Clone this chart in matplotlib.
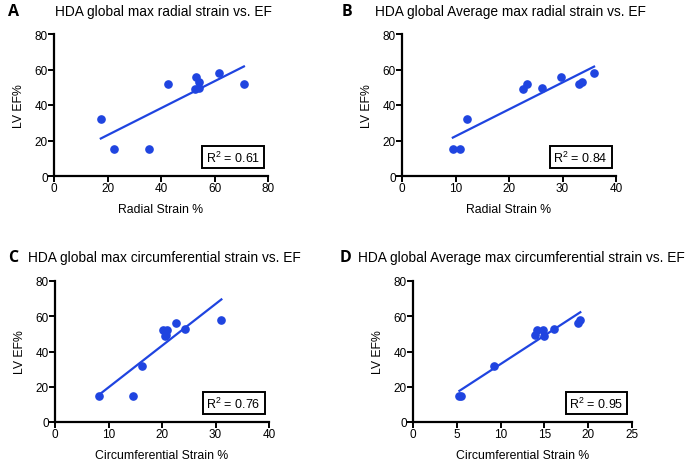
import matplotlib
matplotlib.use('Agg')
import matplotlib.pyplot as plt
import numpy as np

plt.rcParams['font.family'] = ['Liberation Sans', 'DejaVu Sans']

# LV ejection fraction (%) for the same ten subjects
ef_a = [32, 15, 15, 52, 56, 53, 49, 49.5, 58, 52]
ef_b = [15, 15, 32, 49, 52, 49.5, 56, 52, 53, 58]
ef_c = [15, 15, 32, 52, 49, 52, 49.5, 56, 53, 58]
ef_d = [15, 15, 32, 49.5, 52, 52, 49, 53, 56, 58]

# strain values
max_radial = [17.5, 22.5, 35.7, 42.7, 53.1, 54.1, 52.7, 54.2, 61.7, 71.0]
avg_radial = [9.5, 10.8, 12.1, 22.7, 23.3, 26.1, 29.8, 33.1, 33.7, 35.9]
max_circ = [8.3, 14.5, 16.3, 20.1, 20.5, 21.0, 20.7, 22.6, 24.3, 31.1]
avg_circ = [5.3, 5.5, 9.2, 13.9, 14.1, 14.8, 15.0, 16.1, 18.8, 19.1]

r2_labels = ['0.61', '0.84', '0.76', '0.95']
letters = ['A', 'B', 'C', 'D']
titles = ['HDA global max radial strain vs. EF',
          'HDA global Average max radial strain vs. EF',
          'HDA global max circumferential strain vs. EF',
          'HDA global Average max circumferential strain vs. EF']
xlabels = ['Radial Strain %', 'Radial Strain %',
           'Circumferential Strain %', 'Circumferential Strain %']
xlims = [80, 40, 40, 25]
xsteps = [20, 10, 10, 5]

xs = [max_radial, avg_radial, max_circ, avg_circ]
ys = [ef_a, ef_b, ef_c, ef_d]

W, H = 685, 464
# axes boxes in pixels: left, top, right, bottom
boxes = [(54, 35, 268, 177), (402, 35, 616, 177),
         (55, 282, 269, 423), (413, 282, 632, 423)]
title_pos = [(55, 12), (375, 12), (28, 258), (358, 258)]
letter_pos = [(8, 12), (342, 12), (8, 258), (340, 258)]

blue = '#1f44e0'

fig = plt.figure(figsize=(6.85, 4.64), dpi=100)

for i in range(4):
    l, t, r, b = boxes[i]
    ax = fig.add_axes([l / W, 1 - b / H, (r - l) / W, (b - t) / H])
    x = np.array(xs[i])
    y = np.array(ys[i])
    ax.plot(x, y, 'o', color=blue, markersize=5.2, zorder=3)
    k, c = np.polyfit(x, y, 1)
    xx = np.array([x.min(), x.max()])
    ax.plot(xx, k * xx + c, color=blue, linewidth=1.6)

    ax.set_xlim(0, xlims[i])
    ax.set_ylim(0, 80)
    ax.set_xticks(np.arange(0, xlims[i] + 1, xsteps[i]))
    ax.set_yticks([0, 20, 40, 60, 80])
    for s in ['top', 'right']:
        ax.spines[s].set_visible(False)
    for s in ['left', 'bottom']:
        ax.spines[s].set_linewidth(1.6)
    ax.tick_params(direction='out', length=4, width=1.4, labelsize=8.5, pad=0.5)
    ax.set_xlabel(xlabels[i], fontsize=8.8, labelpad=6)
    ax.set_ylabel('LV EF%', fontsize=8.8, labelpad=7)
    ax.text(0.962, 0.08, '$\\mathregular{R^2}$ = ' + r2_labels[i],
            transform=ax.transAxes, ha='right', va='bottom', fontsize=9,
            bbox=dict(boxstyle='square,pad=0.3', facecolor='white',
                      edgecolor='black', linewidth=1.4))

    tx, ty = title_pos[i]
    fig.text(tx / W, 1 - ty / H, titles[i], ha='left', va='center', fontsize=9.9)
    lx, ly = letter_pos[i]
    fig.text(lx / W, 1 - ly / H, letters[i], ha='left', va='center',
             fontsize=11.5, fontweight='bold', family='Open Sans')

fig.savefig('out.png', dpi=100)
